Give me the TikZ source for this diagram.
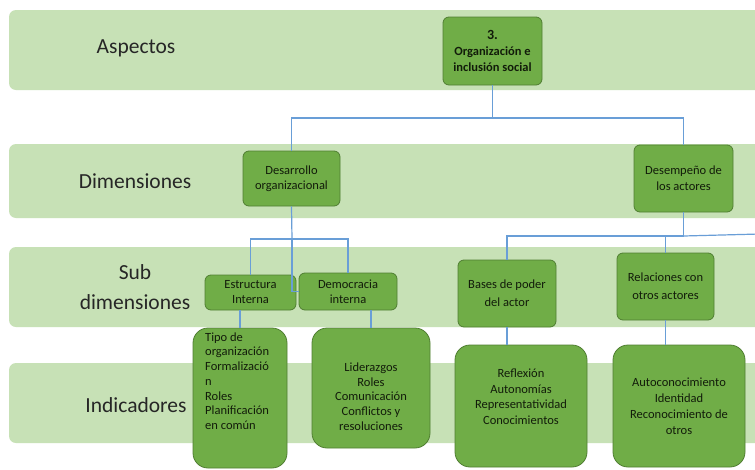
\documentclass[tikz,border=0pt]{standalone}
\usepackage{fontspec}
\setmainfont{Carlito}
\definecolor{bandgreen}{RGB}{199,225,182}
\definecolor{boxgreen}{RGB}{112,173,71}
\definecolor{boxedge}{RGB}{80,126,50}
\definecolor{linkblue}{RGB}{105,158,215}
\definecolor{txtdark}{RGB}{18,28,10}
\definecolor{labgray}{RGB}{38,38,38}
\begin{document}
\begin{tikzpicture}[x=1pt,y=-1pt,
  band/.style={fill=bandgreen, draw=none, rounded corners=7pt},
  lab/.style={font=\fontsize{21.5}{30}\selectfont, text=labgray, align=center, inner sep=0pt},
  box/.style={draw=boxedge, line width=0.8pt, fill=boxgreen, rounded corners=6pt, inner sep=0pt},
  bigbox/.style={box, rounded corners=15pt},
  btxt/.style={font=\fontsize{12.5}{16}\selectfont, text=txtdark, align=center},
  itxt/.style={font=\fontsize{12.5}{14.7}\selectfont, text=txtdark, inner sep=0pt},
  conn/.style={draw=linkblue, line width=1.2pt}]
\useasboundingbox (0,0) rectangle (755,469);
\clip (0,0) rectangle (755,469);
\fill[white] (0,0) rectangle (755,469);
% bands
\fill[band] (9,10) rectangle (780,90);
\fill[band] (9,144) rectangle (780,218);
\fill[band] (9,247) rectangle (780,327);
\fill[band] (9,363) rectangle (780,443);
% band labels
\node[lab] (lasp) at (136,48) {Aspectos};
\node[lab] (ldim) at (135,181) {Dimensiones};
\node[lab] (lsub) at (135,287) {Sub\\dimensiones};
\node[lab] (lind) at (136,405) {Indicadores};
% junctions
\coordinate (j1) at (492.5,118);
\coordinate (j2) at (292,239);
\coordinate (j3) at (683.5,236);
\coordinate (eR) at (760,234);
% nodes
\node[box, minimum width=99pt, minimum height=68pt, btxt, font=\fontsize{12.5}{16}\selectfont\bfseries] (top) at (492.5,51) {{\fontsize{14}{16}\selectfont 3.}\\Organización e\\inclusión social};
\node[box, minimum width=97pt, minimum height=55pt, btxt, font=\fontsize{12.5}{14.5}\selectfont] (des) at (291.5,178.5) {Desarrollo\\organizacional};
\node[box, minimum width=99pt, minimum height=67pt, btxt] (desemp) at (683.5,178.5) {Desempeño de\\los actores};
\node[box, minimum width=91pt, minimum height=35pt, btxt, font=\fontsize{12.5}{15}\selectfont] (estr) at (250.5,292.5) {Estructura\\Interna};
\node[box, minimum width=98pt, minimum height=37pt, btxt, font=\fontsize{12.5}{15}\selectfont] (demo) at (348,291.5) {Democracia\\interna};
\node[box, minimum width=98pt, minimum height=67pt, btxt, font=\fontsize{12.5}{18}\selectfont] (bases) at (507,293.5) {Bases de poder\\del actor};
\node[box, minimum width=97pt, minimum height=67pt, btxt, font=\fontsize{12.5}{18}\selectfont] (rel) at (665.5,286.5) {Relaciones con\\otros actores};
\node[bigbox, minimum width=94pt, minimum height=140pt] (tipo) at (240,398) {};
\node[bigbox, minimum width=118pt, minimum height=120pt] (lid) at (371,388) {};
\node[bigbox, minimum width=132pt, minimum height=122pt] (refl) at (521,406) {};
\node[bigbox, minimum width=132pt, minimum height=122pt] (auto) at (679,406) {};
% indicator texts
\node[itxt, anchor=west, align=left] (tipoT) at (205,381) {Tipo de\\organización\\Formalizació\\n\\Roles\\Planificación\\en común};
\node[itxt, align=center] (lidT) at (371,396.5) {Liderazgos\\Roles\\Comunicación\\Conflictos y\\resoluciones};
\node[itxt, align=center, font=\fontsize{12.5}{15.5}\selectfont] (reflT) at (521,396.5) {Reflexión\\Autonomías\\Representatividad\\Conocimientos};
\node[itxt, align=center, font=\fontsize{12.5}{16}\selectfont] (autoT) at (679,406) {Autoconocimiento\\Identidad\\Reconocimiento de\\otros};
% connectors
\draw[conn] (top.south) -- (j1);
\draw[conn] (des.north) |- (j1) -| (desemp.north);
\draw[conn] (des.south) -- (j2);
\draw[conn] (estr.north) |- (j2) -| (demo.north);
\draw[conn] (j2) |- (demo.west);
\draw[conn] (desemp.south) -- (j3);
\draw[conn] (bases.north) |- (j3);
\draw[conn] (rel.north) |- (j3);
\draw[conn] (j3) -- (eR);
\draw[conn] (tipo.north |- estr.south) -- (tipo.north);
\draw[conn] (lid.north |- demo.south) -- (lid.north);
\draw[conn] (bases.south) -- (bases.south |- refl.north);
\draw[conn] (rel.south) -- (rel.south |- auto.north);
\end{tikzpicture}
\end{document}
